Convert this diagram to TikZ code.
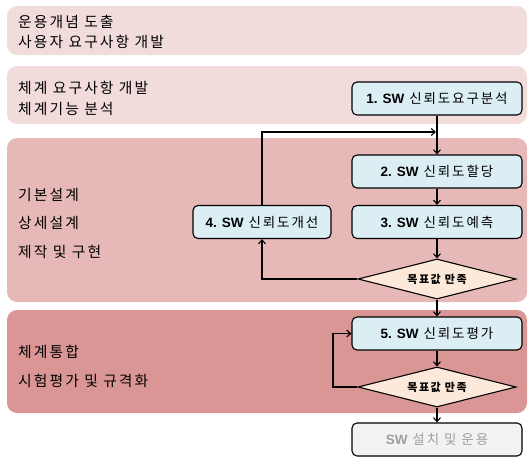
\documentclass[tikz,border=0pt]{standalone}
\usepackage{fontspec}
\setmainfont{Noto Sans CJK KR}[LetterSpace=14]
\newfontfamily\latin{Liberation Sans}
\usetikzlibrary{arrows.meta,shapes.geometric}
\definecolor{bandA}{HTML}{F2DCDB}
\definecolor{bandC}{HTML}{E6B9B8}
\definecolor{bandD}{HTML}{D99694}
\definecolor{boxfill}{HTML}{DBEEF4}
\definecolor{dfill}{HTML}{FDE9D9}
\definecolor{endfill}{HTML}{F2F2F2}
\definecolor{endtext}{HTML}{9E9E9E}
\newcommand{\swb}[1]{{\latin\bfseries #1}}
\begin{document}
\begin{tikzpicture}[x=1pt,y=-1pt,
  band/.style={draw=none,rounded corners=10pt,minimum width=520pt,inner sep=0pt},
  btext/.style={anchor=west,font=\fontsize{14.8}{16}\selectfont,inner sep=0pt},
  box/.style={draw=black,line width=1.1pt,rounded corners=5pt,fill=boxfill,minimum width=170pt,minimum height=33pt,inner sep=0pt,font=\fontsize{13.5}{15}\selectfont},
  dia/.style={diamond,draw=black,line width=1.1pt,fill=dfill,minimum width=158pt,minimum height=40pt,inner sep=0pt,aspect=4,font=\bfseries\fontsize{11}{12}\selectfont},
  arr/.style={draw=black,line width=1.1pt,-{Straight Barb[length=4pt,width=7pt]}}]
\useasboundingbox (0,0) rectangle (528,456);
% bands
\node[band,fill=bandA,minimum height=49pt] (p1) at (267,30.5) {};
\node[band,fill=bandA,minimum height=58pt] (p2) at (267,95) {};
\node[band,fill=bandC,minimum height=164pt] (p3) at (267,220) {};
\node[band,fill=bandD,minimum height=103pt] (p4) at (267,361.5) {};
% band texts
\node[btext] (t1a) at (18,22) {운용개념 도출};
\node[btext] (t1b) at (18,42) {사용자 요구사항 개발};
\node[btext] (t2a) at (18,88) {체계 요구사항 개발};
\node[btext] (t2b) at (18,109) {체계기능 분석};
\node[btext] (t3a) at (18,195) {기본설계};
\node[btext] (t3b) at (18,223) {상세설계};
\node[btext] (t3c) at (18,252) {제작 및 구현};
\node[btext] (t4a) at (18,352) {체계통합};
\node[btext] (t4b) at (18,381) {시험평가 및 규격화};
% boxes
\node[box] (b1) at (437,98.5) {\swb{1. SW} 신뢰도요구분석};
\node[box] (b2) at (437,171.5) {\swb{2. SW} 신뢰도할당};
\node[box] (b3) at (437,222) {\swb{3. SW} 신뢰도예측};
\node[box,minimum width=138pt] (b4) at (262,222) {\swb{4. SW} 신뢰도개선};
\node[dia] (d1) at (437,279) {목표값 만족};
\node[box] (b5) at (437,333.5) {\swb{5. SW} 신뢰도평가};
\node[dia] (d2) at (437,387) {목표값 만족};
\node[box,fill=endfill,text=endtext] (b6) at (437,439.5) {\swb{SW} 설치 및 운용};
% connectors
\coordinate (j1) at (436,132);
\coordinate (l2) at (333,333.5);
\draw[arr] (b1.south) -- (b2.north);
\draw[arr] (b2.south) -- (b3.north);
\draw[arr] (b3.south) -- (d1.north);
\draw[arr] (d1.west) -| (b4.south);
\draw[arr] (b4.north) |- (j1);
\draw[arr] (d1.south) -- (b5.north);
\draw[arr] (b5.south) -- (d2.north);
\draw[arr] (d2.west) -| (l2) -- (b5.west);
\draw[arr] (d2.south) -- (b6.north);
\end{tikzpicture}
\end{document}
